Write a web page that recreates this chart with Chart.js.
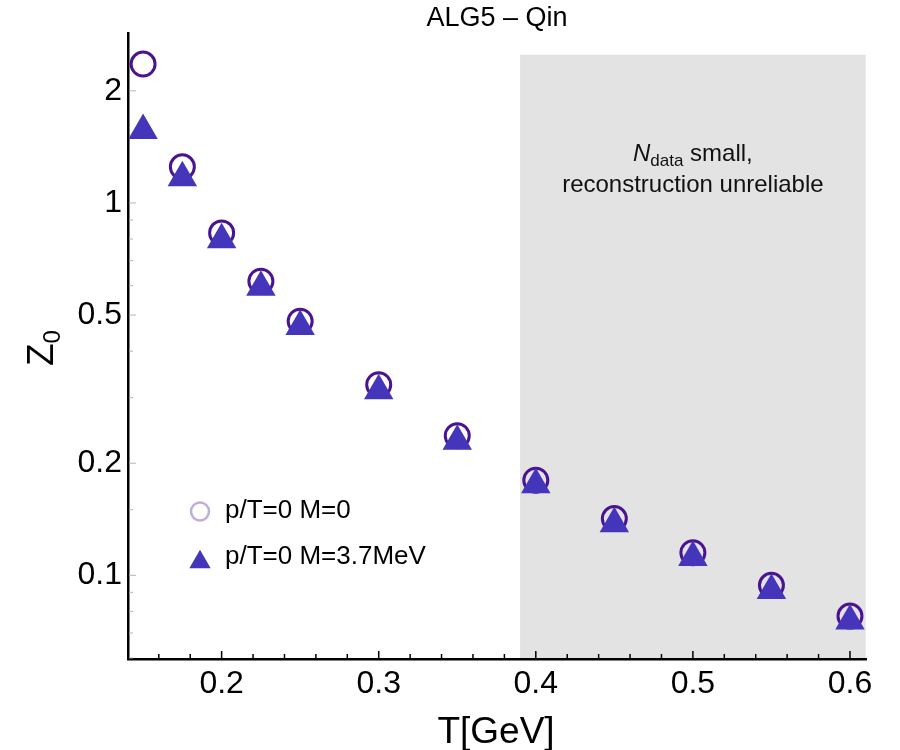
<!DOCTYPE html>
<html><head><meta charset="utf-8">
<script src="https://cdn.jsdelivr.net/npm/chart.js@4/dist/chart.umd.min.js"></script>
<style>html,body{margin:0;padding:0;background:#fff;} #wrap{width:900px;height:750px;}</style>
</head><body><div id="wrap"><canvas id="c" width="900" height="750"></canvas></div>
<script>
// ---- data ----
const temperatures = [0.15, 0.175, 0.2, 0.225, 0.25, 0.3, 0.35, 0.4, 0.45, 0.5, 0.55, 0.6];
const z0Massless = [2.36, 1.25, 0.831, 0.616, 0.481, 0.325, 0.237, 0.180, 0.142, 0.115, 0.094, 0.0777];
const z0Massive  = [1.565, 1.168, 0.796, 0.594, 0.466, 0.313, 0.229, 0.175, 0.1375, 0.1116, 0.0910, 0.0754];
const seriesLabels = ['p/T=0 M=0', 'p/T=0 M=3.7MeV'];
const xMajorTicks = [0.2, 0.3, 0.4, 0.5, 0.6];
const xMinorTicks = [0.16, 0.18, 0.22, 0.24, 0.26, 0.28, 0.32, 0.34, 0.36, 0.38, 0.42, 0.44, 0.46, 0.48, 0.52, 0.54, 0.56, 0.58];
const yMajorTicks = [0.1, 0.2, 0.5, 1, 2];
const yMinorTicks = [0.06, 0.07, 0.08, 0.09, 0.15, 0.3, 0.4, 0.6, 0.7, 0.8, 0.9];
const shadeRange = [0.39, 0.61];
const shadeTop = 2.5;
const titleText = 'ALG5 \u2013 Qin';
const xTitle = 'T[GeV]';
const noteLine2 = 'reconstruction unreliable';

const FONT = "'Liberation Sans', Arial, sans-serif";
const circleColor = '#4a1490';
const triColor = '#4535bb';

const pts = (ys) => temperatures.map((t, i) => ({x: t, y: ys[i]}));

const decor = {
  id: 'decor',
  beforeDraw(chart) {
    const {ctx, chartArea, scales: {x, y}} = chart;
    ctx.save();
    ctx.fillStyle = '#fff';
    ctx.fillRect(0, 0, chart.width, chart.height);
    const x1 = x.getPixelForValue(shadeRange[0]);
    const x2 = x.getPixelForValue(shadeRange[1]);
    const yt = y.getPixelForValue(shadeTop);
    ctx.fillStyle = '#e3e3e3';
    ctx.fillRect(x1, yt, x2 - x1, chartArea.bottom - yt);
    // note text
    const cx = (x1 + x2) / 2;
    ctx.fillStyle = '#111';
    ctx.textBaseline = 'alphabetic';
    ctx.textAlign = 'left';
    const f1 = "24px " + FONT, fi = "italic 24px " + FONT, fs = "17px " + FONT;
    ctx.font = fi; const wN = ctx.measureText('N').width;
    ctx.font = fs; const wD = ctx.measureText('data').width;
    ctx.font = f1; const wS = ctx.measureText(' small,').width;
    let sx = cx - (wN + wD + wS) / 2;
    const b1 = 161;
    ctx.font = fi; ctx.fillText('N', sx, b1); sx += wN;
    ctx.font = fs; ctx.fillText('data', sx, b1 + 5); sx += wD;
    ctx.font = f1; ctx.fillText(' small,', sx, b1);
    ctx.textAlign = 'center';
    ctx.fillText(noteLine2, cx, 192);
    ctx.restore();
  },
  afterDraw(chart) {
    const {ctx, chartArea, scales: {x, y}} = chart;
    ctx.save();
    // x ticks inward (black)
    ctx.strokeStyle = '#000';
    ctx.lineWidth = 1.5;
    const xb = chartArea.bottom;
    xMajorTicks.forEach(v => { const p = x.getPixelForValue(v); ctx.beginPath(); ctx.moveTo(p, xb); ctx.lineTo(p, xb - 8); ctx.stroke(); });
    xMinorTicks.forEach(v => { const p = x.getPixelForValue(v); ctx.beginPath(); ctx.moveTo(p, xb); ctx.lineTo(p, xb - 5); ctx.stroke(); });
    // y ticks inward (gray)
    ctx.strokeStyle = '#b5b5b5';
    ctx.lineWidth = 1;
    const yl = chartArea.left + 1;
    yMajorTicks.forEach(v => { const p = y.getPixelForValue(v); ctx.beginPath(); ctx.moveTo(yl, p); ctx.lineTo(yl + 7, p); ctx.stroke(); });
    yMinorTicks.forEach(v => { const p = y.getPixelForValue(v); ctx.beginPath(); ctx.moveTo(yl, p); ctx.lineTo(yl + 4, p); ctx.stroke(); });
    // title
    ctx.fillStyle = '#000';
    ctx.textAlign = 'center';
    ctx.textBaseline = 'alphabetic';
    ctx.font = "27px " + FONT;
    ctx.fillText(titleText, 497, 26);
    // x title
    ctx.font = "37px " + FONT;
    ctx.fillText(xTitle, 496, 743);
    // y title Z_0 rotated
    ctx.save();
    ctx.translate(53, 366);
    ctx.rotate(-Math.PI / 2);
    ctx.textAlign = 'left';
    ctx.font = "37px " + FONT;
    ctx.fillText('Z', 0, 0);
    const wz = ctx.measureText('Z').width;
    ctx.font = "24px " + FONT;
    ctx.fillText('0', wz, 7);
    ctx.restore();
    // legend
    ctx.lineWidth = 2.5;
    ctx.strokeStyle = 'rgba(74,20,144,0.35)';
    ctx.beginPath(); ctx.arc(200, 511.5, 9, 0, Math.PI * 2); ctx.stroke();
    const r = 12.3, tcx = 200, tcy = 562;
    ctx.fillStyle = triColor;
    ctx.beginPath();
    ctx.moveTo(tcx, tcy - r);
    ctx.lineTo(tcx + r * Math.sin(2 * Math.PI / 3), tcy + r / 2);
    ctx.lineTo(tcx - r * Math.sin(2 * Math.PI / 3), tcy + r / 2);
    ctx.closePath(); ctx.fill();
    ctx.fillStyle = '#000';
    ctx.textAlign = 'left';
    ctx.font = "26px " + FONT;
    ctx.fillText(seriesLabels[0], 225, 518);
    ctx.fillText(seriesLabels[1], 225, 564);
    ctx.restore();
  }
};

new Chart(document.getElementById('c'), {
  type: 'scatter',
  data: {
    datasets: [
      { label: seriesLabels[0], data: pts(z0Massless), order: 2,
        pointStyle: 'circle', pointRadius: 12, pointBorderWidth: 3,
        borderColor: circleColor, backgroundColor: 'rgba(0,0,0,0)', showLine: false },
      { label: seriesLabels[1], data: pts(z0Massive), order: 1,
        pointStyle: 'triangle', pointRadius: 17, pointBorderWidth: 0,
        borderColor: triColor, backgroundColor: triColor, showLine: false }
    ]
  },
  options: {
    responsive: false,
    animation: false,
    devicePixelRatio: 1,
    layout: { padding: { left: 0, top: 33, right: 34, bottom: 0 } },
    plugins: { legend: { display: false }, tooltip: { enabled: false }, title: { display: false } },
    scales: {
      x: {
        type: 'linear', min: 0.1404, max: 0.6102,
        afterBuildTicks: s => { s.ticks = xMajorTicks.map(v => ({value: v})); },
        afterFit: s => { s.height = 91; },
        ticks: { callback: v => v.toFixed(1), color: '#000', font: { family: FONT, size: 32 }, padding: 6, maxRotation: 0, autoSkip: false },
        grid: { display: false, drawTicks: false },
        border: { display: true, color: '#000', width: 2.5 }
      },
      y: {
        type: 'logarithmic', min: 0.0596, max: 2.86,
        afterBuildTicks: s => { s.ticks = yMajorTicks.map(v => ({value: v})); },
        afterFit: s => { s.width = 128; },
        ticks: { callback: v => String(v), color: '#000', font: { family: FONT, size: 32 }, padding: 6, autoSkip: false },
        grid: { display: false, drawTicks: false },
        border: { display: true, color: '#000', width: 2.5 }
      }
    }
  },
  plugins: [decor]
});
</script></body></html>
